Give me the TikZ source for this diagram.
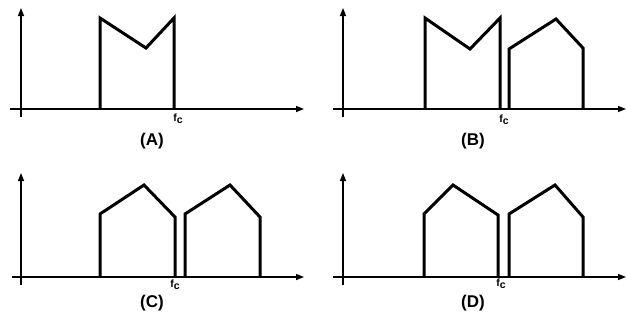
\documentclass[tikz,border=0pt]{standalone}
\usepackage{fontspec}
\setmainfont{Liberation Sans}
\usetikzlibrary{arrows.meta}
\newcommand{\fcsym}{f\raisebox{-2.2pt}{c}}
\begin{document}
\begin{tikzpicture}[x=1pt,y=-1pt,
  axis/.style={line width=1.4pt,-{Triangle[length=8pt,width=6pt]}},
  band/.style={line width=3pt,line join=miter},
  fclabel/.style={font=\bfseries\fontsize{10.5}{12}\selectfont,inner sep=0pt},
  panel/.style={font=\bfseries\fontsize{17}{20}\selectfont,inner sep=0pt}]
\useasboundingbox (0,0) rectangle (627,324);
% Panel A
\draw[axis] (21,117) -- (21,8);
\draw[axis] (10,109) -- (304,109);
\draw[band] (100,109) -- (100,18) -- (146,48) -- (174,18) -- (174,109);
\node[fclabel] (fcA) at (178,119) {\fcsym};
\node[panel] (A) at (152,141) {(A)};
% Panel B
\draw[axis] (343,117) -- (343,8);
\draw[axis] (333,109) -- (626,109);
\draw[band] (425,109) -- (425,18) -- (470,49) -- (500,18) -- (500,109);
\draw[band] (509,109) -- (509,49) -- (556,19) -- (583,48) -- (583,109);
\node[fclabel] (fcB) at (504,120) {\fcsym};
\node[panel] (B) at (473,141) {(B)};
% Panel C
\draw[axis] (21,285) -- (21,173);
\draw[axis] (12,277) -- (304,277);
\draw[band] (100,277) -- (100,214) -- (144,185) -- (175,217) -- (175,277);
\draw[band] (185,277) -- (185,214) -- (230,185) -- (260,217) -- (260,277);
\node[fclabel] (fcC) at (175,285) {\fcsym};
\node[panel] (C) at (152,303) {(C)};
% Panel D
\draw[axis] (343,285) -- (343,173);
\draw[axis] (333,277) -- (626,277);
\draw[band] (424,277) -- (424,214) -- (453,185) -- (498,215) -- (498,277);
\draw[band] (509,277) -- (509,214) -- (555,185) -- (583,217) -- (583,277);
\node[fclabel] (fcD) at (501,284) {\fcsym};
\node[panel] (D) at (473,303) {(D)};
\end{tikzpicture}
\end{document}
